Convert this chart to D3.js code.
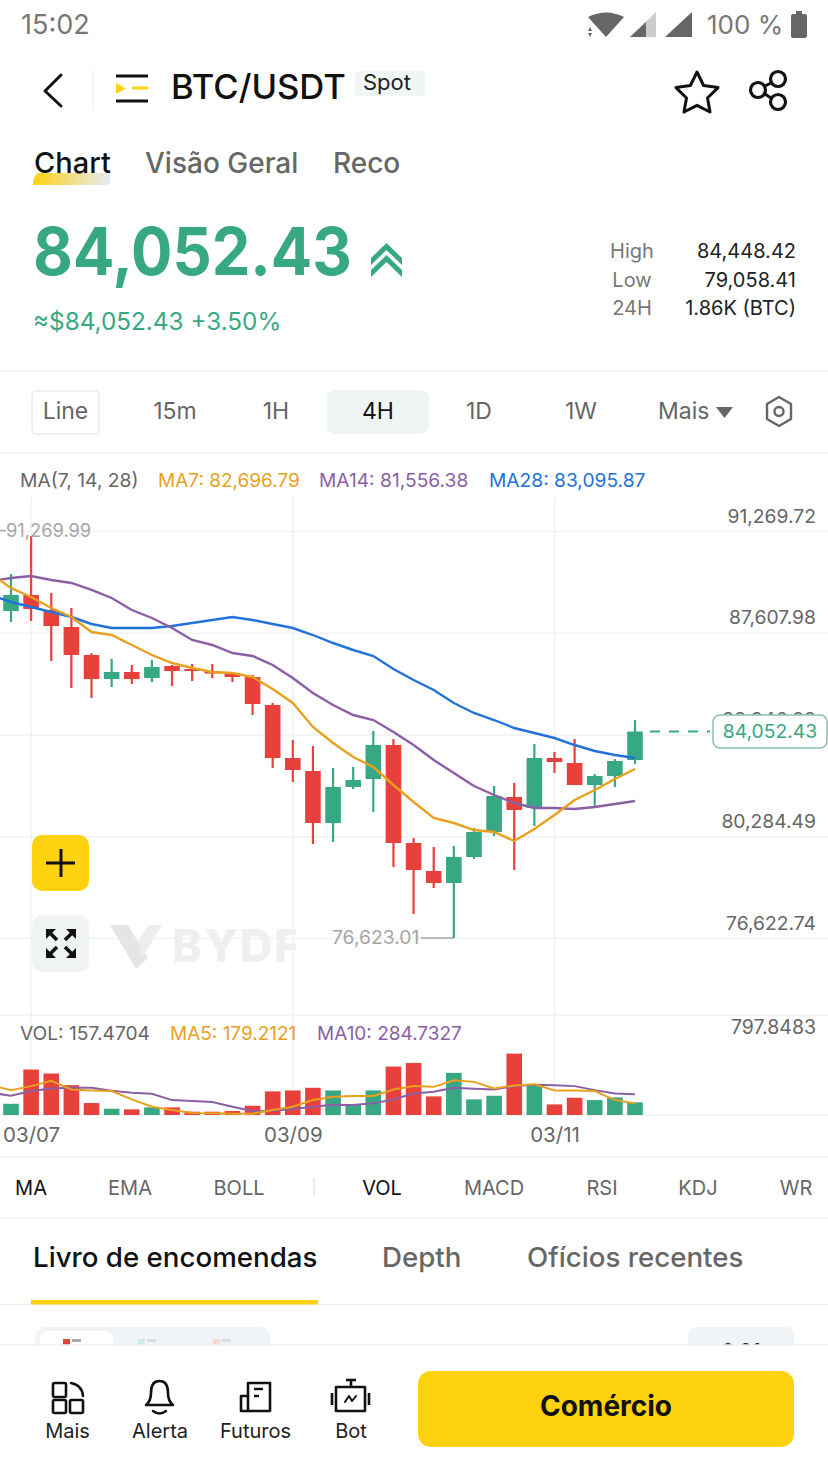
<!DOCTYPE html>
<html><head><meta charset="utf-8">
<style>html,body{margin:0;padding:0;background:#fff;overflow:hidden}svg{display:block}text{font-family:Inter,Roboto,sans-serif}</style>
<script src="https://cdn.jsdelivr.net/npm/d3@7"></script></head><body>
<svg id="c" width="828" height="1472"></svg>
<script>
const opens=[88391,88967,88427,87815,86807,85943,86195,85979,86411,86303,86231,86159,86015,85008,83100,82632,80761,82057,82344,83568,80041,79033,78602,79537,80437,81697,81301,83100,82920,82129,82452,83028];
const closes=[88967,88463,87851,86807,85943,86195,85943,86375,86231,86231,86141,86015,85044,83100,82668,80761,82057,82308,83568,80041,79069,78602,79537,80437,81733,81229,83100,82956,82129,82452,82992,84052.43];
const highs=[89722,91090,89039,88499,86879,86663,86447,86627,86447,86483,86483,86195,86087,85080,83748,83532,82740,82776,84072,83784,80221,79897,79933,80581,82093,82201,83604,83316,83784,82524,83064,84468];
const lows=[87995,88031,86591,85620,85260,85656,85764,85836,85692,85871,85979,85836,84648,82740,82237,80005,80077,81985,81157,79177,77486,78422,76623,79465,80293,79069,80653,82560,82129,81337,82057,82884];
// moving averages start one candle before the visible window
const ma7=[89722,89219,88895,88499,88175,87635,87527,87167,86807,86519,86339,86195,86159,86015,85584,85080,84216,83640,83136,82776,82129,81517,80941,80761,80509,80437,80113,80545,81049,81589,81949,82344,82704];
const ma14=[89470,89578,89650,89506,89399,89147,88859,88427,88139,87779,87347,87167,86879,86771,86447,85979,85440,85008,84648,84468,84036,83568,83028,82560,82093,81769,81481,81301,81301,81265,81337,81445,81553];
const ma28=[88967,88715,88535,88355,88175,87923,87779,87779,87779,87851,87959,88067,88175,88067,87923,87779,87527,87239,86987,86771,86303,85907,85548,85080,84720,84468,84180,84000,83820,83568,83352,83208,83100];
const vols=[140,567,517,372,149,78,70,95,95,41,41,50,115,294,306,339,306,124,306,604,649,232,525,195,240,765,372,132,215,186,219,157.47];
const volMa5=[372,310,360,426,318,306,298,194,103,62,25,21,17,17,62,103,186,227,236,236,318,360,351,434,413,331,368,384,306,306,298,186,145];
const volMa10=[277,240,298,331,339,339,302,277,265,186,174,161,103,50,54,74,103,128,124,145,194,269,289,339,327,318,360,376,372,360,310,269,260];
const priceTicks=[91269.72,87607.98,83946.23,80284.49,76622.74];
const dateLabels=["03/07","03/09","03/11"];
const dateIdx=[1,14,27];

const GREEN="#38A783",RED="#E8403A",ORANGE="#E9A01F",PURPLE="#8B5FA6",BLUE="#2272D9",GRID="#EFF1F3",YEL="#FFD210";
const svg=d3.select("#c");
const T=(x,y,s,o={})=>svg.append("text").attr("x",x).attr("y",y).text(s)
  .attr("font-size",o.size||20).attr("fill",o.fill||"#666").attr("text-anchor",o.a||"start")
  .attr("font-weight",o.w||400).attr("letter-spacing",o.ls||null);
const L=(x1,y1,x2,y2,c=GRID,w=1.5)=>svg.append("line").attr("x1",x1).attr("y1",y1).attr("x2",x2).attr("y2",y2).attr("stroke",c).attr("stroke-width",w);
const R=(x,y,w,h,f,r=0)=>svg.append("rect").attr("x",x).attr("y",y).attr("width",w).attr("height",h).attr("fill",f).attr("rx",r);
const P=(d,o={})=>svg.append("path").attr("d",d).attr("fill",o.fill||"none").attr("stroke",o.stroke||(o.fill?"none":"#111")).attr("stroke-width",o.w||2.6).attr("stroke-linejoin","round").attr("stroke-linecap",o.cap||"round");

// status bar
T(21,34,"15:02",{size:27,fill:"#777"});
P("M588 17 Q606 8 624 17 L606 37Z",{fill:"#666"});
P("M590 27l-2 4h4zM590 37l-2-4h4z",{fill:"#666"});
P("M630 37L656 12V37Z",{fill:"#ccc"});P("M630 37L646 22V37Z",{fill:"#666"});
P("M665 37L692 12V37Z",{fill:"#666"});
T(707,34,"100 %",{size:26,fill:"#777"});
R(791,14,16,24,"#666",2);R(796,11,6,4,"#666");

// header
P("M61 75L45 91L61 106",{w:3});
L(93,70,93,111,"#F1F2F3",1.5);
L(116,76,148,76,"#111",3);L(116,101,148,101,"#111",3);
L(132,88,148,88,YEL,3);P("M116 83L126 88.5L116 94Z",{fill:YEL});
T(171,99,"BTC/USDT",{size:34.6,fill:"#111",w:500});
R(355,71,70,25,"#F0F5F6",3);
T(363,90,"Spot",{size:22,fill:"#222"});
P("M697 72L703.6 85.5L718 87.6L707.5 98L710 112L697 105.3L684 112L686.5 98L676 87.6L690.4 85.5Z",{w:3});
[[778,79],[778,102],[758,90]].forEach(c=>svg.append("circle").attr("cx",c[0]).attr("cy",c[1]).attr("r",7.5).attr("fill","none").attr("stroke","#111").attr("stroke-width",3.2));
L(765,86,771,83,"#111",3);L(765,94,771,98,"#111",3);

// tabs
const grad=svg.append("defs").append("linearGradient").attr("id","g");
grad.append("stop").attr("offset","0").attr("stop-color",YEL);
grad.append("stop").attr("offset","1").attr("stop-color","#E3ECF8");
svg.append("path").attr("d","M38 173H110V185H33Q33 176 38 173Z").attr("fill","url(#g)");
T(34,173,"Chart",{size:29,fill:"#111",w:500});
T(145,173,"Visão Geral",{size:28,fill:"#666",w:500});
T(333,173,"Reco",{size:28,fill:"#666",w:500});

// price block
T(33,275,"84,052.43",{size:66,fill:GREEN,w:700}).attr("textLength",319).attr("lengthAdjust","spacingAndGlyphs");
P("M371 258L386.5 243L402 258V265L386.5 250L371 265Z",{fill:GREEN});
P("M371 270L386.5 255L402 270V277L386.5 262L371 277Z",{fill:GREEN});
T(33,330,"≈$84,052.43 +3.50%",{size:24.3,fill:GREEN,w:400});
[["High","84,448.42",258],["Low","79,058.41",287],["24H","1.86K (BTC)",315]].forEach(r=>{
  T(632,r[2],r[0],{size:20,fill:"#777",a:"middle"});
  T(796,r[2],r[1],{size:20,fill:"#222",a:"end"});
});
L(0,371,828,371);

// interval bar
svg.append("rect").attr("x",32).attr("y",391).attr("width",67).attr("height",43).attr("rx",4).attr("fill","#fff").attr("stroke","#E8EAEC").attr("stroke-width",1.5);
R(327,390,102,44,"#EFF4F5",8);
[["Line",65.5,"#666"],["15m",175,"#666"],["1H",276,"#666"],["4H",378,"#111"],["1D",479,"#666"],["1W",581,"#666"]].forEach(d=>T(d[1],419,d[0],{size:23,fill:d[2],a:"middle"}));
T(658,419,"Mais",{size:23,fill:"#666"});
P("M716 407H733L724.5 418Z",{fill:"#666"});
P("M779 397L791 404V419L779 426L767 419V404Z",{stroke:"#666",w:2.4});
svg.append("circle").attr("cx",779).attr("cy",411.5).attr("r",4.5).attr("fill","none").attr("stroke","#666").attr("stroke-width",2.4);
L(0,453,828,453);

// chart scales
const x=d3.scaleLinear().domain([0,31]).range([11,635]);
const y=d3.scaleLinear().domain([76622.74,91269.72]).range([938,531]);
const v=d3.scaleLinear().domain([0,797.8483]).range([1115,1051]);
const fmt=d3.format(",.2f");

// vertical grid
dateIdx.forEach(i=>L(x(i),497,x(i),1115));

// price axis (gridlines + labels)
const ax=svg.append("g").call(d3.axisRight(y).tickValues(priceTicks).tickSize(828).tickFormat(fmt));
ax.select(".domain").remove();
ax.selectAll("line").attr("stroke",GRID).attr("stroke-width",1.5);
ax.selectAll("text").attr("x",816).attr("dy",-9).attr("text-anchor","end").attr("font-size",19.3).attr("font-family","Inter,Roboto,sans-serif").attr("fill","#666");
L(0,1015,828,1015);L(0,1115,828,1115);

// watermark
P("M110 925H128L148 958L136 969Z",{fill:"#E4E5E6"});
P("M138 942L148 925H162L142 958Z",{fill:"#EDEEEF"});
svg.append("clipPath").attr("id","wm").append("rect").attr("x",165).attr("y",915).attr("width",131).attr("height",60);
T(172,962,"BYDFi",{size:45,fill:"#EEEFF0",w:800,ls:2}).attr("clip-path","url(#wm)");

// candles
const idx=d3.range(opens.length);
const color=i=>closes[i]>=opens[i]?GREEN:RED;
svg.append("g").selectAll("line").data(idx).join("line")
  .attr("x1",x).attr("x2",x).attr("y1",i=>y(highs[i])).attr("y2",i=>y(lows[i]))
  .attr("stroke",color).attr("stroke-width",2.2);
svg.append("g").selectAll("rect").data(idx).join("rect")
  .attr("x",i=>x(i)-7.8).attr("width",15.6)
  .attr("y",i=>y(Math.max(opens[i],closes[i])))
  .attr("height",i=>Math.max(1.5,Math.abs(y(opens[i])-y(closes[i]))))
  .attr("fill",color);

// MA lines: index 0 of each array is candle -1
const pl=d3.line().x((d,i)=>x(i-1)).y(d=>y(d));
[[ma28,BLUE],[ma14,PURPLE],[ma7,ORANGE]].forEach(m=>svg.append("path").attr("d",pl(m[0])).attr("fill","none").attr("stroke",m[1]).attr("stroke-width",2.4));

// extreme labels
L(0,530.5,6,530.5,"#aaa",1.5);
T(6,537,"91,269.99",{size:18.3,fill:"#A5A5A5"});
T(332,944,"76,623.01",{size:19.3,fill:"#A5A5A5"});
L(421,938,x(22),938,"#A5A5A5",1.5);

// last price
svg.append("line").attr("x1",650).attr("x2",710).attr("y1",y(closes[31])).attr("y2",y(closes[31])).attr("stroke",GREEN).attr("stroke-width",2).attr("stroke-dasharray","10 9");
svg.append("rect").attr("x",713).attr("y",715).attr("width",114).attr("height",33).attr("rx",7).attr("fill","#fff").attr("stroke","#8DBFAF").attr("stroke-width",1.5);
T(770,738,fmt(closes[31]),{size:19.3,fill:GREEN,a:"middle"});

// legends
T(20,487,"MA(7, 14, 28)",{size:19.3,fill:"#666"});
T(158,487,"MA7: 82,696.79",{size:19,fill:ORANGE});
T(319,487,"MA14: 81,556.38",{size:19.2,fill:PURPLE});
T(489,487,"MA28: 83,095.87",{size:19.2,fill:BLUE});

// floating buttons
R(32,835,57,56,YEL,10);
L(61,849,61,877,"#111",3);L(46,863,75,863,"#111",3);
R(32,915,57,57,"#F0F3F4",10);
[[46,929,1,1],[76,929,-1,1],[46,958,1,-1],[76,958,-1,-1]].forEach(c=>{
  const [a,b,s,t]=c;
  P(`M${a} ${b}h${s*10}l${-s*10} ${t*10}z`,{fill:"#111",w:.5});
  L(a+s*4,b+t*4,a+s*11,b+t*11,"#111",3.6);
});

// volume
svg.append("g").selectAll("rect").data(idx).join("rect")
  .attr("x",i=>x(i)-7.8).attr("width",15.6)
  .attr("y",i=>v(vols[i])).attr("height",i=>v(0)-v(vols[i])).attr("fill",color);
const vl=d3.line().x((d,i)=>x(i-1)).y(d=>v(d));
[[volMa10,PURPLE],[volMa5,ORANGE]].forEach(m=>svg.append("path").attr("d",vl(m[0])).attr("fill","none").attr("stroke",m[1]).attr("stroke-width",2));
T(20,1040,"VOL: 157.4704",{size:19.2,fill:"#666"});
T(170,1040,"MA5: 179.2121",{size:19,fill:ORANGE});
T(317,1040,"MA10: 284.7327",{size:19,fill:PURPLE});
T(816,1034,"797.8483",{size:19.5,fill:"#666",a:"end"});

// date axis
const ax2=svg.append("g").attr("transform","translate(0,1115)").call(d3.axisBottom(x).tickValues(dateIdx).tickSize(0).tickFormat((d,i)=>dateLabels[i]));
ax2.select(".domain").remove();
ax2.selectAll("text").attr("y",27).attr("dy",0).attr("font-size",20.5).attr("font-family","Inter,Roboto,sans-serif").attr("fill","#666");

// indicator tabs
L(0,1157,828,1157);
[["MA",31,"#111"],["EMA",130,"#666"],["BOLL",239,"#666"],["VOL",382,"#111"],["MACD",494,"#666"],["RSI",602,"#666"],["KDJ",698,"#666"],["WR",796,"#666"]].forEach(d=>T(d[1],1195,d[0],{size:20,fill:d[2],a:"middle"}));
L(314,1178,314,1196,"#E3E5E7",1.5);
L(0,1218,828,1218);

// book tabs
T(33,1267,"Livro de encomendas",{size:27.7,fill:"#111",w:500});
T(382,1267,"Depth",{size:27.7,fill:"#666",w:500});
T(527,1267,"Ofícios recentes",{size:27.7,fill:"#666",w:500});
L(0,1304.5,828,1304.5);
R(31,1300,287,4.5,YEL);
R(35,1327,235,40,"#F0F4F6",10);R(40,1331,73,40,"#fff",8);
R(63,1339,7,6,RED);R(72,1339,9,3,"#aaa");
R(138,1339,7,6,"#CDEBE3");R(147,1339,9,3,"#ddd");
R(213,1339,7,6,"#F8D8D5");R(222,1339,9,3,"#ddd");
R(688,1327,106,40,"#F0F4F6",8);
T(741,1358,"0.01",{size:20,fill:"#222",a:"middle",w:500});

// footer
R(0,1345,828,127,"#fff");
L(0,1345,828,1345);
[[53,1383,13,14],[53,1400,13,13],[70,1400,13,13]].forEach(r=>svg.append("rect").attr("x",r[0]).attr("y",r[1]).attr("width",r[2]).attr("height",r[3]).attr("rx",1.5).attr("fill","none").attr("stroke","#111").attr("stroke-width",2.6));
P("M71 1383Q82 1385 83 1396");
P("M146 1405Q151 1401 151 1393Q151 1381 159.5 1381Q168 1381 168 1393Q168 1401 173 1405Z");
P("M153 1411Q159.5 1416 166 1411");
P("M248 1383H270V1411H248Z");P("M248 1396H241V1411H248");
L(254,1389,263,1389,"#111",2.4);L(254,1396,259,1396,"#111",2.4);
P("M336 1387H365V1411H336Z");L(351,1380,351,1387,"#111",2.6);L(346,1380,356,1380,"#111",2.6);
L(332,1393,332,1405,"#111",2.6);L(369,1393,369,1405,"#111",2.6);
P("M345 1402L349 1396L352 1401L356 1396",{w:2});
[["Mais",67.5],["Alerta",160],["Futuros",255.5],["Bot",351]].forEach(d=>T(d[1],1438,d[0],{size:20,fill:"#222",a:"middle"}));
R(418,1371,376,76,YEL,13);
T(606,1416,"Comércio",{size:28,fill:"#111",a:"middle",w:700});
</script></body></html>
